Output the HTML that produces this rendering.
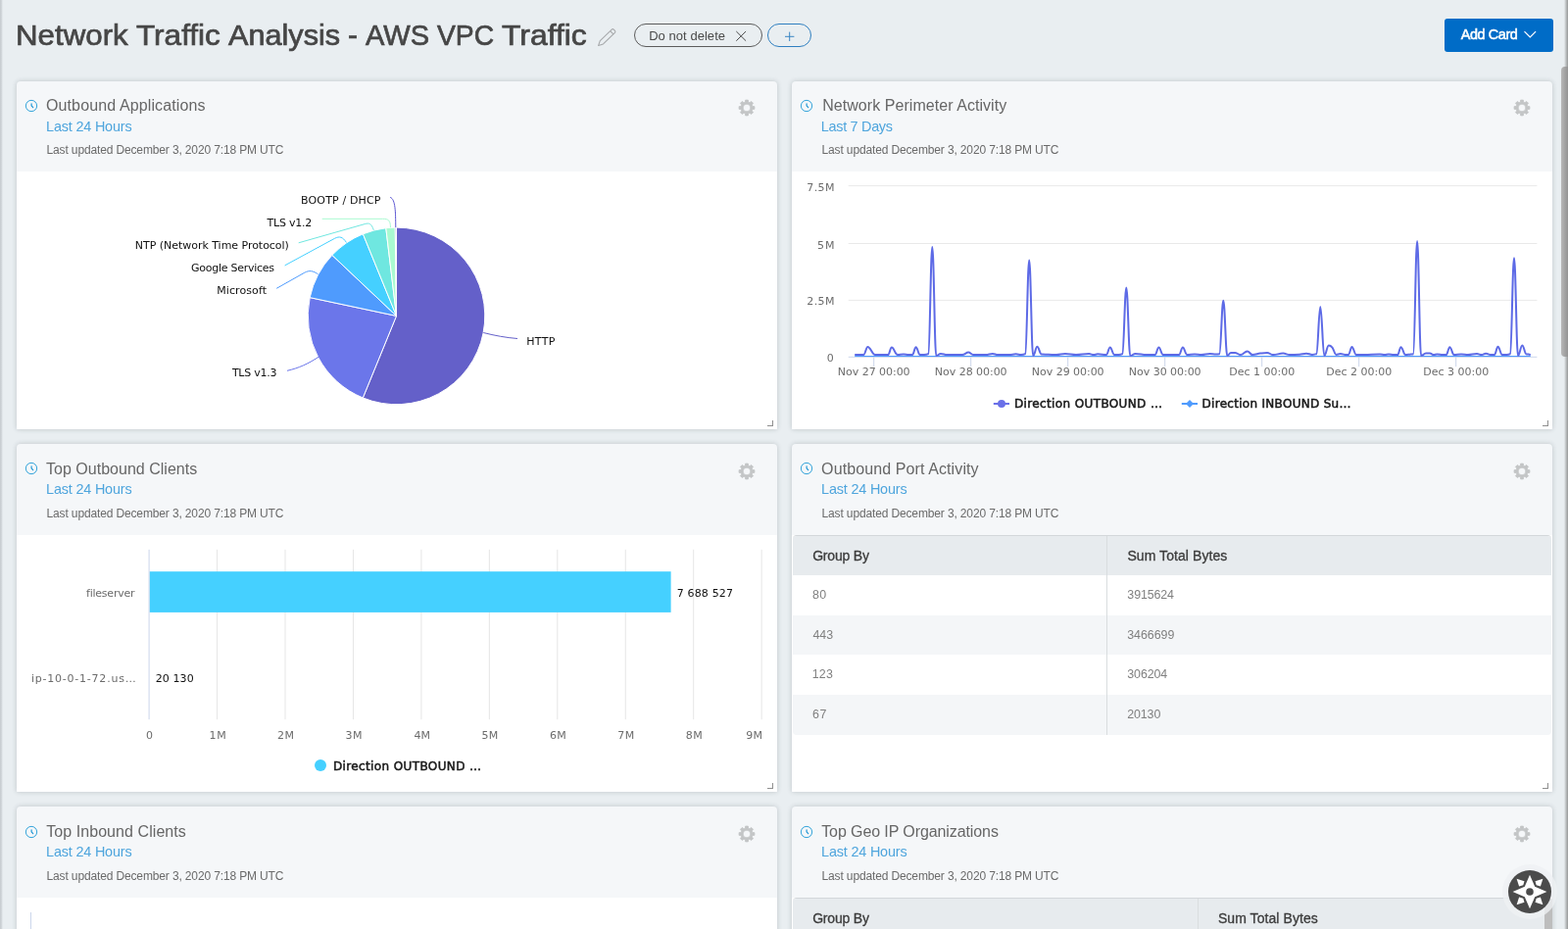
<!DOCTYPE html>
<html lang="en">
<head>
<meta charset="utf-8">
<title>Network Traffic Analysis - AWS VPC Traffic</title>
<style>
html,body{margin:0;padding:0}
body{width:1600px;height:948px;overflow:hidden;background:#e9eef1;position:relative;font-family:'Liberation Sans',sans-serif}
#app{position:absolute;left:0;top:0;width:1600px;height:948px;overflow:hidden;background:#e9eef1}
h1,h2{margin:0;padding:0;font-weight:400;font-size:inherit}
.abs{position:absolute;display:block}
.t{position:absolute;white-space:pre;display:block}
.card{position:absolute;background:#f5f7f9;border-radius:4px 4px 1px 1px;box-shadow:0 0 5px rgba(50,62,70,.24);overflow:hidden;margin:0}
.card .body{position:absolute;left:0;width:100%;background:#fff}
.rh{position:absolute;width:5px;height:5px;border-right:1px solid #8f8f8f;border-bottom:1px solid #8f8f8f}
.pill{position:absolute;box-sizing:border-box;border:1px solid;border-radius:12px}
.btn{position:absolute;background:#006cc7;border-radius:3px}
.tbl{position:absolute;box-sizing:border-box;border-top:1px solid #d3d7da;border-radius:4px;overflow:hidden;background:#fff}
.tbl .th{position:absolute;left:0;top:0;width:100%;background:#e7ebee}
.tbl .tr{position:absolute;left:0;width:100%}
.tbl .vd{position:absolute;top:0;bottom:0;width:1px;background:#d9dddf}
</style>
</head>
<body>
<div id="app">
<h1>
<span class="t" style="left:16.06px;top:17.00px;font:400 30px 'Liberation Sans', sans-serif;line-height:38px;color:#464646;transform:scaleX(1.0426);transform-origin:0 0;-webkit-text-stroke:0.7px #464646;">Network</span> <span class="t" style="left:138.75px;top:17.00px;font:400 30px 'Liberation Sans', sans-serif;line-height:38px;color:#464646;transform:scaleX(1.0512);transform-origin:0 0;-webkit-text-stroke:0.7px #464646;">Traffic</span> <span class="t" style="left:233.21px;top:17.00px;font:400 30px 'Liberation Sans', sans-serif;line-height:38px;color:#464646;transform:scaleX(1.0215);transform-origin:0 0;-webkit-text-stroke:0.7px #464646;">Analysis</span> <span class="t" style="left:355.01px;top:17.00px;font:400 30px 'Liberation Sans', sans-serif;line-height:38px;color:#464646;-webkit-text-stroke:0.7px #464646;">-</span> <span class="t" style="left:372.90px;top:17.00px;font:400 30px 'Liberation Sans', sans-serif;line-height:38px;color:#464646;transform:scaleX(0.9674);transform-origin:0 0;-webkit-text-stroke:0.7px #464646;">AWS</span> <span class="t" style="left:445.99px;top:17.00px;font:400 30px 'Liberation Sans', sans-serif;line-height:38px;color:#464646;transform:scaleX(0.9419);transform-origin:0 0;-webkit-text-stroke:0.7px #464646;">VPC</span> <span class="t" style="left:511.55px;top:17.00px;font:400 30px 'Liberation Sans', sans-serif;line-height:38px;color:#464646;transform:scaleX(1.0629);transform-origin:0 0;-webkit-text-stroke:0.7px #464646;">Traffic</span>
</h1>
<svg class="abs" style="left:608px;top:26px" width="24" height="24" viewBox="608 26 24 24">
<g transform="translate(610.6 46.5) rotate(-44)">
<path d="M0 0L4.6-2.3H21.2Q22.6-2.3 22.6-0.9V0.9Q22.6 2.3 21.2 2.3H4.6Z M19 -2.3V2.3" fill="none" stroke="#a6a8aa" stroke-width="1.05" stroke-linejoin="round"/>
</g>
</svg>
<div class="pill" style="left:646.5px;top:24px;width:131px;height:24px;border-color:#5c5c5c">
</div>
<span class="t" style="left:662.19px;top:29.00px;font:400 13px 'Liberation Sans', sans-serif;line-height:16px;color:#4a4a4a;letter-spacing:0.042px;">Do not delete</span>
<svg class="abs" style="left:748px;top:28px" width="16" height="16" viewBox="748 28 16 16">
<path d="M751.3 32L761.1 41.7M761.1 32L751.3 41.7" stroke="#4a4a4a" stroke-width="1" fill="none"/>
</svg>
<div class="pill" style="left:783px;top:24px;width:44.5px;height:24px;border-color:#2f7fc0">
</div>
<svg class="abs" style="left:797px;top:28px" width="16" height="16" viewBox="797 28 16 16">
<path d="M801 37.3H810.4M805.7 32.6V42" stroke="#3b86c4" stroke-width="1" fill="none"/>
</svg>
<div class="btn" style="left:1474px;top:19px;width:111px;height:34px">
</div>
<span class="t" style="left:1490.69px;top:26.00px;font:400 14.4px 'Liberation Sans', sans-serif;line-height:18px;color:#fff;letter-spacing:-0.374px;-webkit-text-stroke:0.5px #fff;">Add Card</span>
<svg class="abs" style="left:1552px;top:28px" width="18" height="14" viewBox="1552 28 18 14">
<path d="M1555.5 32.2L1561.3 38L1567.1 32.2" stroke="#fff" stroke-width="1.2" fill="none"/>
</svg>
<section class="card" style="left:17px;top:83px;width:776.4px;height:354.9px">
<div class="body" style="top:92px;height:262.9px">
</div>
</section>
<svg class="abs" style="left:24.1px;top:99.9px" width="16" height="16" viewBox="-8 -8 16 16">
<circle r="5.65" fill="none" stroke="#2a9fd8" stroke-width="0.95"/>
<path d="M0.1-2.3V-0.2L1.7 1.7" fill="none" stroke="#1a94d4" stroke-width="1.15" stroke-linecap="round" stroke-linejoin="round"/>
</svg>
<h2 class="t" style="left:46.97px;top:98.00px;font:400 16px 'Liberation Sans', sans-serif;line-height:20px;color:#666;letter-spacing:0.119px;">Outbound Applications</h2>
<span class="t" style="left:47.07px;top:120.00px;font:400 14.4px 'Liberation Sans', sans-serif;line-height:18px;color:#4ea5dd;letter-spacing:-0.173px;">Last 24 Hours</span>
<span class="t" style="left:47.52px;top:146.00px;font:400 12px 'Liberation Sans', sans-serif;line-height:15px;color:#6a6a6a;letter-spacing:-0.138px;">Last updated December 3, 2020 7:18 PM UTC</span>
<svg class="abs" style="left:752.45px;top:100.25px" width="20" height="20" viewBox="-10 -10 20 20">
<path d="M-1.60 -5.78L-1.36 -7.93L1.36 -7.93L1.60 -5.78L2.96 -5.22L4.65 -6.57L6.57 -4.65L5.22 -2.96L5.78 -1.60L7.93 -1.36L7.93 1.36L5.78 1.60L5.22 2.96L6.57 4.65L4.65 6.57L2.96 5.22L1.60 5.78L1.36 7.93L-1.36 7.93L-1.60 5.78L-2.96 5.22L-4.65 6.57L-6.57 4.65L-5.22 2.96L-5.78 1.60L-7.93 1.36L-7.93 -1.36L-5.78 -1.60L-5.22 -2.96L-6.57 -4.65L-4.65 -6.57L-2.96 -5.22Z M3.85 0A3.85 3.85 0 1 0 -3.85 0A3.85 3.85 0 1 0 3.85 0Z" fill="#c3c5c6" fill-rule="evenodd" stroke="#c3c5c6" stroke-width="0.8" stroke-linejoin="round"/>
</svg>
<svg class="abs" style="left:17px;top:175px" width="776" height="262" viewBox="17 175 776 262">
<path d="M404.5 322.4L404.50 232.10A90.3 90.3 0 1 1 370.31 405.98Z" fill="#6460c9" stroke="#fff" stroke-width="1" stroke-linejoin="round"/>
<path d="M404.5 322.4L370.31 405.98A90.3 90.3 0 0 1 316.17 303.63Z" fill="#6b76ea" stroke="#fff" stroke-width="1" stroke-linejoin="round"/>
<path d="M404.5 322.4L316.17 303.63A90.3 90.3 0 0 1 338.89 260.36Z" fill="#4f9bfd" stroke="#fff" stroke-width="1" stroke-linejoin="round"/>
<path d="M404.5 322.4L338.89 260.36A90.3 90.3 0 0 1 370.38 238.79Z" fill="#45d0ff" stroke="#fff" stroke-width="1" stroke-linejoin="round"/>
<path d="M404.5 322.4L370.38 238.79A90.3 90.3 0 0 1 393.81 232.74Z" fill="#6fe7e0" stroke="#fff" stroke-width="1" stroke-linejoin="round"/>
<path d="M404.5 322.4L393.81 232.74A90.3 90.3 0 0 1 403.24 232.11Z" fill="#a9fad1" stroke="#fff" stroke-width="1" stroke-linejoin="round"/>
<path d="M404.5 322.4L403.24 232.11A90.3 90.3 0 0 1 404.50 232.10Z" fill="#5a4fd8" stroke="#fff" stroke-width="1" stroke-linejoin="round"/>
<path d="M398.2 201.3C403.6 203.5 403.6 216 403.8 232" fill="none" stroke="#5b55d2" stroke-width="1"/>
<path d="M328.7 223.3L390.5 223.3C396.8 223.3 398.3 225.3 398.5 232" fill="none" stroke="#a9fad1" stroke-width="1"/>
<path d="M304.7 247.8L372.2 228.6C377 227.2 379 228.3 381.3 234.8" fill="none" stroke="#6fe7e0" stroke-width="1"/>
<path d="M290.6 270.9L341.5 243.3C346.5 240.7 349.8 241.8 353.4 247.4" fill="none" stroke="#45d0ff" stroke-width="1"/>
<path d="M282.2 294.3L310.8 278.2C315.5 275.6 319.5 276.3 324.4 279.7" fill="none" stroke="#4f9bfd" stroke-width="1"/>
<path d="M293 378.3C305 375.5 314 371.5 325 364.3" fill="none" stroke="#6b76ea" stroke-width="1"/>
<path d="M493.3 339.5C505 342.5 516 344.5 528 345.5" fill="none" stroke="#6460c9" stroke-width="1"/>
</svg>
<span class="t" style="left:307.10px;top:198.00px;font:400 11px 'DejaVu Sans', 'Liberation Sans', sans-serif;line-height:14px;color:#111;letter-spacing:0.135px;">BOOTP / DHCP</span>
<span class="t" style="left:272.62px;top:221.00px;font:400 11px 'DejaVu Sans', 'Liberation Sans', sans-serif;line-height:14px;color:#111;letter-spacing:-0.225px;">TLS v1.2</span>
<span class="t" style="left:137.87px;top:244.00px;font:400 11px 'DejaVu Sans', 'Liberation Sans', sans-serif;line-height:14px;color:#111;letter-spacing:-0.031px;">NTP (Network Time Protocol)</span>
<span class="t" style="left:194.96px;top:267.00px;font:400 11px 'DejaVu Sans', 'Liberation Sans', sans-serif;line-height:14px;color:#111;letter-spacing:-0.259px;">Google Services</span>
<span class="t" style="left:221.27px;top:290.00px;font:400 11px 'DejaVu Sans', 'Liberation Sans', sans-serif;line-height:14px;color:#111;letter-spacing:0.087px;">Microsoft</span>
<span class="t" style="left:236.89px;top:374.00px;font:400 11px 'DejaVu Sans', 'Liberation Sans', sans-serif;line-height:14px;color:#111;letter-spacing:-0.232px;">TLS v1.3</span>
<span class="t" style="left:537.25px;top:342.00px;font:400 11px 'DejaVu Sans', 'Liberation Sans', sans-serif;line-height:14px;color:#111;letter-spacing:0.333px;">HTTP</span>
<div class="rh" style="left:783.1px;top:429.29999999999995px">
</div>
<section class="card" style="left:808px;top:83px;width:776.4px;height:354.9px">
<div class="body" style="top:92px;height:262.9px">
</div>
</section>
<svg class="abs" style="left:815.1px;top:99.9px" width="16" height="16" viewBox="-8 -8 16 16">
<circle r="5.65" fill="none" stroke="#2a9fd8" stroke-width="0.95"/>
<path d="M0.1-2.3V-0.2L1.7 1.7" fill="none" stroke="#1a94d4" stroke-width="1.15" stroke-linecap="round" stroke-linejoin="round"/>
</svg>
<h2 class="t" style="left:839.22px;top:98.00px;font:400 16px 'Liberation Sans', sans-serif;line-height:20px;color:#666;letter-spacing:0.05px;">Network Perimeter Activity</h2>
<span class="t" style="left:837.83px;top:120.00px;font:400 14.4px 'Liberation Sans', sans-serif;line-height:18px;color:#4ea5dd;letter-spacing:-0.284px;">Last 7 Days</span>
<span class="t" style="left:838.52px;top:146.00px;font:400 12px 'Liberation Sans', sans-serif;line-height:15px;color:#6a6a6a;letter-spacing:-0.138px;">Last updated December 3, 2020 7:18 PM UTC</span>
<svg class="abs" style="left:1543.45px;top:100.25px" width="20" height="20" viewBox="-10 -10 20 20">
<path d="M-1.60 -5.78L-1.36 -7.93L1.36 -7.93L1.60 -5.78L2.96 -5.22L4.65 -6.57L6.57 -4.65L5.22 -2.96L5.78 -1.60L7.93 -1.36L7.93 1.36L5.78 1.60L5.22 2.96L6.57 4.65L4.65 6.57L2.96 5.22L1.60 5.78L1.36 7.93L-1.36 7.93L-1.60 5.78L-2.96 5.22L-4.65 6.57L-6.57 4.65L-5.22 2.96L-5.78 1.60L-7.93 1.36L-7.93 -1.36L-5.78 -1.60L-5.22 -2.96L-6.57 -4.65L-4.65 -6.57L-2.96 -5.22Z M3.85 0A3.85 3.85 0 1 0 -3.85 0A3.85 3.85 0 1 0 3.85 0Z" fill="#c3c5c6" fill-rule="evenodd" stroke="#c3c5c6" stroke-width="0.8" stroke-linejoin="round"/>
</svg>
<svg class="abs" style="left:808px;top:175px" width="776" height="262" viewBox="808 175 776 262">
<path d="M865.7 189.6H1568.4" stroke="#e6e6e6" stroke-width="0.9" fill="none"/>
<path d="M865.7 248.5H1568.4" stroke="#e6e6e6" stroke-width="0.9" fill="none"/>
<path d="M865.7 306.4H1568.4" stroke="#e6e6e6" stroke-width="0.9" fill="none"/>
<path d="M865.7 364.3H1568.4" stroke="#ccd6eb" stroke-width="1" fill="none"/>
<path d="M891.7 364.1V374.2" stroke="#ccd6eb" stroke-width="1" fill="none"/>
<path d="M990.7 364.1V374.2" stroke="#ccd6eb" stroke-width="1" fill="none"/>
<path d="M1089.7 364.1V374.2" stroke="#ccd6eb" stroke-width="1" fill="none"/>
<path d="M1188.7 364.1V374.2" stroke="#ccd6eb" stroke-width="1" fill="none"/>
<path d="M1287.7 364.1V374.2" stroke="#ccd6eb" stroke-width="1" fill="none"/>
<path d="M1386.7 364.1V374.2" stroke="#ccd6eb" stroke-width="1" fill="none"/>
<path d="M1485.7 364.1V374.2" stroke="#ccd6eb" stroke-width="1" fill="none"/>
<path d="M872.2 363.5H1561.8" stroke="#4f9bfd" stroke-width="1.1" fill="none"/>
<path d="M872.2 362.1C872.2 362.1 875.1 362.1 877.0 362.1C878.7 362.1 879.5 362.1 881.2 362.1C882.9 362.1 883.7 354.0 885.4 354.0C888.4 354.0 890.0 362.1 893.0 362.1C895.8 362.1 897.2 362.1 900.0 362.1C902.4 362.1 903.7 362.1 906.1 362.1C907.6 362.1 908.4 354.6 909.9 354.6C912.3 354.6 913.5 362.1 915.9 362.1C918.3 362.1 919.6 361.4 922.0 361.4C924.0 361.4 925.0 362.1 927.0 362.1C928.6 362.1 929.4 362.1 931.0 362.1C932.4 362.1 933.2 354.3 934.6 354.3C936.3 354.3 937.1 362.1 938.8 362.1C940.5 362.1 941.3 362.1 943.0 362.1C944.7 362.1 945.6 362.1 947.3 361.2C948.9 360.4 949.7 252.1 951.3 252.1C952.9 252.1 953.7 363.1 955.3 363.1C957.1 363.1 958.1 360.9 959.9 360.9C962.5 360.9 963.7 362.1 966.3 362.1C969.8 362.1 971.5 362.1 975.0 362.1C977.8 362.1 979.2 362.1 982.0 362.1C984.5 362.1 985.7 359.6 988.2 359.6C990.1 359.6 991.1 362.1 993.0 362.1C995.8 362.1 997.2 362.1 1000.0 362.1C1002.4 362.1 1003.6 362.1 1006.0 362.1C1008.8 362.1 1010.1 360.9 1012.9 360.9C1014.9 360.9 1016.0 362.1 1018.0 362.1C1020.4 362.1 1021.6 362.1 1024.0 362.1C1026.4 362.1 1027.6 362.1 1030.0 362.1C1032.6 362.1 1034.0 361.3 1036.6 361.3C1038.8 361.3 1039.8 362.1 1042.0 362.1C1043.7 362.1 1044.5 362.1 1046.2 361.2C1047.8 360.4 1048.6 265.4 1050.2 265.4C1051.8 265.4 1052.6 363.1 1054.2 363.1C1055.9 363.1 1056.7 353.8 1058.4 353.8C1060.1 353.8 1061.0 361.4 1062.7 361.5C1065.6 361.7 1067.0 361.6 1069.9 361.7C1073.1 361.8 1074.8 362.1 1078.0 362.1C1081.6 362.1 1083.3 361.1 1086.9 361.1C1091.3 361.1 1093.6 362.1 1098.0 362.1C1103.3 362.1 1105.9 361.1 1111.2 361.1C1113.1 361.1 1114.1 362.1 1116.0 362.1C1117.6 362.1 1118.5 361.3 1120.1 361.3C1123.6 361.3 1125.4 362.1 1128.9 362.1C1130.4 362.1 1131.2 354.5 1132.7 354.5C1134.5 354.5 1135.3 362.1 1137.1 362.1C1138.9 362.1 1139.7 362.1 1141.5 362.1C1143.0 362.1 1143.8 362.1 1145.3 361.2C1146.9 360.4 1147.7 293.5 1149.3 293.5C1150.9 293.5 1151.7 363.1 1153.3 363.1C1155.4 363.1 1156.4 360.9 1158.5 360.9C1163.1 360.9 1165.4 362.1 1170.0 362.1C1173.4 362.1 1175.2 362.1 1178.6 362.1C1180.1 362.1 1180.9 354.5 1182.4 354.5C1184.2 354.5 1185.0 362.1 1186.8 362.1C1189.7 362.1 1191.1 362.1 1194.0 362.1C1197.6 362.1 1199.5 362.1 1203.1 362.1C1204.6 362.1 1205.4 354.5 1206.9 354.5C1208.7 354.5 1209.5 362.1 1211.3 362.1C1214.4 362.1 1215.9 361.6 1219.0 361.6C1221.8 361.6 1223.2 362.1 1226.0 362.1C1229.5 362.1 1231.2 361.1 1234.7 361.1C1237.0 361.1 1238.2 361.6 1240.5 361.6C1242.0 361.6 1242.8 361.6 1244.3 361.2C1245.9 360.9 1246.7 306.8 1248.3 306.8C1249.9 306.8 1250.7 363.1 1252.3 363.1C1253.8 363.1 1254.5 359.9 1256.0 359.9C1257.6 359.9 1258.4 359.9 1260.0 359.9C1262.4 359.9 1263.6 362.1 1266.0 362.1C1268.7 362.1 1270.1 358.4 1272.8 358.4C1274.9 358.4 1275.9 362.1 1278.0 362.1C1281.2 362.1 1282.8 361.1 1286.0 360.6C1288.8 360.2 1290.2 359.9 1293.0 359.9C1295.4 359.9 1296.6 362.1 1299.0 362.1C1303.1 362.1 1305.2 360.6 1309.3 360.6C1312.0 360.6 1313.3 362.1 1316.0 362.1C1320.0 362.1 1322.0 362.0 1326.0 361.7C1328.8 361.5 1330.2 360.7 1333.0 360.7C1335.4 360.7 1336.6 361.9 1339.0 361.9C1340.7 361.9 1341.6 361.9 1343.3 361.2C1344.9 360.6 1345.7 313.0 1347.3 313.0C1348.9 313.0 1349.7 363.1 1351.3 363.1C1353.1 363.1 1354.0 352.5 1355.8 352.5C1357.3 352.5 1358.0 352.8 1359.5 354.6C1361.1 356.6 1361.9 361.9 1363.5 361.9C1365.2 361.9 1366.0 361.1 1367.7 361.1C1370.2 361.1 1371.5 362.1 1374.0 362.1C1374.8 362.1 1375.1 362.1 1375.9 362.1C1377.3 362.1 1378.1 354.0 1379.5 354.0C1381.3 354.0 1382.1 362.1 1383.9 362.1C1387.1 362.1 1388.8 362.1 1392.0 362.1C1398.4 362.1 1401.6 361.4 1408.0 361.4C1410.0 361.4 1411.0 362.1 1413.0 362.1C1414.6 362.1 1415.4 361.4 1417.0 361.4C1419.0 361.4 1420.0 362.1 1422.0 362.1C1423.6 362.1 1424.5 362.1 1426.1 362.1C1427.5 362.1 1428.1 354.2 1429.5 354.2C1431.3 354.2 1432.3 362.1 1434.1 362.1C1435.9 362.1 1436.7 361.9 1438.5 361.7C1439.9 361.5 1440.7 361.7 1442.1 361.2C1443.7 360.8 1444.5 245.9 1446.1 245.9C1447.7 245.9 1448.5 363.1 1450.1 363.1C1452.1 363.1 1453.0 360.5 1455.0 360.5C1456.6 360.5 1457.4 360.5 1459.0 360.5C1460.6 360.5 1461.4 362.1 1463.0 362.1C1464.4 362.1 1465.1 361.4 1466.5 361.4C1468.7 361.4 1469.8 362.1 1472.0 362.1C1473.5 362.1 1474.2 362.1 1475.7 362.1C1477.1 362.1 1477.9 354.2 1479.3 354.2C1481.1 354.2 1481.9 362.1 1483.7 362.1C1486.6 362.1 1488.1 361.5 1491.0 361.5C1493.8 361.5 1495.2 362.1 1498.0 362.1C1501.6 362.1 1503.4 361.1 1507.0 361.1C1509.0 361.1 1510.0 362.1 1512.0 362.1C1513.7 362.1 1514.5 360.7 1516.2 360.7C1518.1 360.7 1519.1 362.1 1521.0 362.1C1522.6 362.1 1523.3 362.1 1524.9 362.1C1526.3 362.1 1527.1 353.8 1528.5 353.8C1530.3 353.8 1531.1 362.1 1532.9 362.1C1534.7 362.1 1535.7 362.1 1537.5 362.1C1538.9 362.1 1539.6 362.1 1541.0 361.2C1542.6 360.4 1543.4 263.2 1545.0 263.2C1546.6 263.2 1547.4 363.1 1549.0 363.1C1550.7 363.1 1551.6 352.6 1553.3 352.6C1555.0 352.6 1555.9 361.5 1557.6 361.5C1558.4 361.6 1558.7 361.5 1559.5 361.6C1560.4 361.7 1561.8 362.1 1561.8 362.1" stroke="#5d6ae6" stroke-width="2" fill="none" stroke-linejoin="round" stroke-linecap="butt"/>
<path d="M1013.8 412H1030" stroke="#6a70e8" stroke-width="2"/>
<circle cx="1022" cy="412" r="4" fill="#6a70e8"/>
<path d="M1205.8 412H1222" stroke="#4f9bfd" stroke-width="2"/>
<path d="M1214 408L1218 412L1214 416L1210 412Z" fill="#4f9bfd"/>
</svg>
<span class="t" style="left:823.26px;top:185.00px;font:400 11px 'DejaVu Sans', 'Liberation Sans', sans-serif;line-height:14px;color:#6c6c6c;letter-spacing:0.435px;">7.5M</span>
<span class="t" style="left:834.11px;top:244.00px;font:400 11px 'DejaVu Sans', 'Liberation Sans', sans-serif;line-height:14px;color:#6c6c6c;letter-spacing:0.958px;">5M</span>
<span class="t" style="left:823.31px;top:301.00px;font:400 11px 'DejaVu Sans', 'Liberation Sans', sans-serif;line-height:14px;color:#6c6c6c;letter-spacing:0.404px;">2.5M</span>
<span class="t" style="left:843.76px;top:359.00px;font:400 11px 'DejaVu Sans', 'Liberation Sans', sans-serif;line-height:14px;color:#6c6c6c;">0</span>
<span class="t" style="left:854.85px;top:373.00px;font:400 11px 'DejaVu Sans', 'Liberation Sans', sans-serif;line-height:14px;color:#6c6c6c;letter-spacing:-0.036px;">Nov 27 00:00</span>
<span class="t" style="left:953.85px;top:373.00px;font:400 11px 'DejaVu Sans', 'Liberation Sans', sans-serif;line-height:14px;color:#6c6c6c;letter-spacing:-0.036px;">Nov 28 00:00</span>
<span class="t" style="left:1052.85px;top:373.00px;font:400 11px 'DejaVu Sans', 'Liberation Sans', sans-serif;line-height:14px;color:#6c6c6c;letter-spacing:-0.036px;">Nov 29 00:00</span>
<span class="t" style="left:1151.85px;top:373.00px;font:400 11px 'DejaVu Sans', 'Liberation Sans', sans-serif;line-height:14px;color:#6c6c6c;letter-spacing:-0.036px;">Nov 30 00:00</span>
<span class="t" style="left:1254.24px;top:373.00px;font:400 11px 'DejaVu Sans', 'Liberation Sans', sans-serif;line-height:14px;color:#6c6c6c;letter-spacing:-0.002px;">Dec 1 00:00</span>
<span class="t" style="left:1353.24px;top:373.00px;font:400 11px 'DejaVu Sans', 'Liberation Sans', sans-serif;line-height:14px;color:#6c6c6c;letter-spacing:-0.002px;">Dec 2 00:00</span>
<span class="t" style="left:1452.24px;top:373.00px;font:400 11px 'DejaVu Sans', 'Liberation Sans', sans-serif;line-height:14px;color:#6c6c6c;letter-spacing:-0.002px;">Dec 3 00:00</span>
<span class="t" style="left:1034.93px;top:405.00px;font:400 12px 'DejaVu Sans', 'Liberation Sans', sans-serif;line-height:15px;color:#1a1a1a;letter-spacing:0.376px;-webkit-text-stroke:0.55px #1a1a1a;">Direction OUTBOUND …</span>
<span class="t" style="left:1226.56px;top:405.00px;font:400 12px 'DejaVu Sans', 'Liberation Sans', sans-serif;line-height:15px;color:#1a1a1a;letter-spacing:0.294px;-webkit-text-stroke:0.55px #1a1a1a;">Direction INBOUND Su…</span>
<div class="rh" style="left:1574.1000000000001px;top:429.29999999999995px">
</div>
<section class="card" style="left:17px;top:453px;width:776.4px;height:354.9px">
<div class="body" style="top:92.5px;height:262.4px">
</div>
</section>
<svg class="abs" style="left:24.1px;top:470.34999999999997px" width="16" height="16" viewBox="-8 -8 16 16">
<circle r="5.65" fill="none" stroke="#2a9fd8" stroke-width="0.95"/>
<path d="M0.1-2.3V-0.2L1.7 1.7" fill="none" stroke="#1a94d4" stroke-width="1.15" stroke-linecap="round" stroke-linejoin="round"/>
</svg>
<h2 class="t" style="left:47.00px;top:469.00px;font:400 16px 'Liberation Sans', sans-serif;line-height:20px;color:#666;letter-spacing:0.017px;">Top Outbound Clients</h2>
<span class="t" style="left:47.07px;top:490.00px;font:400 14.4px 'Liberation Sans', sans-serif;line-height:18px;color:#4ea5dd;letter-spacing:-0.173px;">Last 24 Hours</span>
<span class="t" style="left:47.52px;top:517.00px;font:400 12px 'Liberation Sans', sans-serif;line-height:15px;color:#6a6a6a;letter-spacing:-0.138px;">Last updated December 3, 2020 7:18 PM UTC</span>
<svg class="abs" style="left:752.45px;top:470.7px" width="20" height="20" viewBox="-10 -10 20 20">
<path d="M-1.60 -5.78L-1.36 -7.93L1.36 -7.93L1.60 -5.78L2.96 -5.22L4.65 -6.57L6.57 -4.65L5.22 -2.96L5.78 -1.60L7.93 -1.36L7.93 1.36L5.78 1.60L5.22 2.96L6.57 4.65L4.65 6.57L2.96 5.22L1.60 5.78L1.36 7.93L-1.36 7.93L-1.60 5.78L-2.96 5.22L-4.65 6.57L-6.57 4.65L-5.22 2.96L-5.78 1.60L-7.93 1.36L-7.93 -1.36L-5.78 -1.60L-5.22 -2.96L-6.57 -4.65L-4.65 -6.57L-2.96 -5.22Z M3.85 0A3.85 3.85 0 1 0 -3.85 0A3.85 3.85 0 1 0 3.85 0Z" fill="#c3c5c6" fill-rule="evenodd" stroke="#c3c5c6" stroke-width="0.8" stroke-linejoin="round"/>
</svg>
<svg class="abs" style="left:17px;top:546px" width="776" height="261" viewBox="17 546 776 261">
<path d="M221.55 560.8V734.2" stroke="#e6e6e6" stroke-width="1" fill="none"/>
<path d="M291.00 560.8V734.2" stroke="#e6e6e6" stroke-width="1" fill="none"/>
<path d="M360.45 560.8V734.2" stroke="#e6e6e6" stroke-width="1" fill="none"/>
<path d="M429.90 560.8V734.2" stroke="#e6e6e6" stroke-width="1" fill="none"/>
<path d="M499.35 560.8V734.2" stroke="#e6e6e6" stroke-width="1" fill="none"/>
<path d="M568.80 560.8V734.2" stroke="#e6e6e6" stroke-width="1" fill="none"/>
<path d="M638.25 560.8V734.2" stroke="#e6e6e6" stroke-width="1" fill="none"/>
<path d="M707.70 560.8V734.2" stroke="#e6e6e6" stroke-width="1" fill="none"/>
<path d="M777.15 560.8V734.2" stroke="#e6e6e6" stroke-width="1" fill="none"/>
<rect x="152.6" y="583.2" width="532" height="41.7" fill="#45d0ff"/>
<path d="M152.1 560.8V734.2" stroke="#ccd6eb" stroke-width="1" fill="none"/>
<circle cx="327" cy="781.1" r="6" fill="#45d0ff"/>
</svg>
<span class="t" style="left:88.00px;top:599.00px;font:400 11px 'DejaVu Sans', 'Liberation Sans', sans-serif;line-height:14px;color:#6c6c6c;letter-spacing:-0.222px;">fileserver</span>
<span class="t" style="left:31.88px;top:686.00px;font:400 11px 'DejaVu Sans', 'Liberation Sans', sans-serif;line-height:14px;color:#6c6c6c;letter-spacing:0.78px;">ip-10-0-1-72.us…</span>
<span class="t" style="left:690.67px;top:599.00px;font:400 11px 'DejaVu Sans', 'Liberation Sans', sans-serif;line-height:14px;color:#111;letter-spacing:0.171px;">7 688 527</span>
<span class="t" style="left:158.63px;top:686.00px;font:400 11px 'DejaVu Sans', 'Liberation Sans', sans-serif;line-height:14px;color:#111;letter-spacing:0.102px;">20 130</span>
<span class="t" style="left:149.11px;top:744.00px;font:400 11px 'DejaVu Sans', 'Liberation Sans', sans-serif;line-height:14px;color:#6c6c6c;">0</span>
<span class="t" style="left:213.55px;top:744.00px;font:400 11px 'DejaVu Sans', 'Liberation Sans', sans-serif;line-height:14px;color:#6c6c6c;letter-spacing:0.584px;">1M</span>
<span class="t" style="left:283.09px;top:744.00px;font:400 11px 'DejaVu Sans', 'Liberation Sans', sans-serif;line-height:14px;color:#6c6c6c;letter-spacing:0.396px;">2M</span>
<span class="t" style="left:352.50px;top:744.00px;font:400 11px 'DejaVu Sans', 'Liberation Sans', sans-serif;line-height:14px;color:#6c6c6c;letter-spacing:0.479px;">3M</span>
<span class="t" style="left:422.42px;top:744.00px;font:400 11px 'DejaVu Sans', 'Liberation Sans', sans-serif;line-height:14px;color:#6c6c6c;letter-spacing:0.122px;">4M</span>
<span class="t" style="left:491.41px;top:744.00px;font:400 11px 'DejaVu Sans', 'Liberation Sans', sans-serif;line-height:14px;color:#6c6c6c;letter-spacing:0.458px;">5M</span>
<span class="t" style="left:560.89px;top:744.00px;font:400 11px 'DejaVu Sans', 'Liberation Sans', sans-serif;line-height:14px;color:#6c6c6c;letter-spacing:0.404px;">6M</span>
<span class="t" style="left:630.30px;top:744.00px;font:400 11px 'DejaVu Sans', 'Liberation Sans', sans-serif;line-height:14px;color:#6c6c6c;letter-spacing:0.49px;">7M</span>
<span class="t" style="left:699.80px;top:744.00px;font:400 11px 'DejaVu Sans', 'Liberation Sans', sans-serif;line-height:14px;color:#6c6c6c;letter-spacing:0.382px;">8M</span>
<span class="t" style="left:761.14px;top:744.00px;font:400 11px 'DejaVu Sans', 'Liberation Sans', sans-serif;line-height:14px;color:#6c6c6c;letter-spacing:0.297px;">9M</span>
<span class="t" style="left:339.91px;top:775.00px;font:400 12px 'DejaVu Sans', 'Liberation Sans', sans-serif;line-height:15px;color:#1a1a1a;letter-spacing:0.378px;-webkit-text-stroke:0.55px #1a1a1a;">Direction OUTBOUND …</span>
<div class="rh" style="left:783.1px;top:799.3px">
</div>
<section class="card" style="left:808px;top:453px;width:776.4px;height:354.9px">
<div class="body" style="top:92.5px;height:262.4px">
</div>
</section>
<svg class="abs" style="left:815.1px;top:470.34999999999997px" width="16" height="16" viewBox="-8 -8 16 16">
<circle r="5.65" fill="none" stroke="#2a9fd8" stroke-width="0.95"/>
<path d="M0.1-2.3V-0.2L1.7 1.7" fill="none" stroke="#1a94d4" stroke-width="1.15" stroke-linecap="round" stroke-linejoin="round"/>
</svg>
<h2 class="t" style="left:838.08px;top:469.00px;font:400 16px 'Liberation Sans', sans-serif;line-height:20px;color:#666;letter-spacing:0.105px;">Outbound Port Activity</h2>
<span class="t" style="left:838.08px;top:490.00px;font:400 14.4px 'Liberation Sans', sans-serif;line-height:18px;color:#4ea5dd;letter-spacing:-0.173px;">Last 24 Hours</span>
<span class="t" style="left:838.52px;top:517.00px;font:400 12px 'Liberation Sans', sans-serif;line-height:15px;color:#6a6a6a;letter-spacing:-0.138px;">Last updated December 3, 2020 7:18 PM UTC</span>
<svg class="abs" style="left:1543.45px;top:470.7px" width="20" height="20" viewBox="-10 -10 20 20">
<path d="M-1.60 -5.78L-1.36 -7.93L1.36 -7.93L1.60 -5.78L2.96 -5.22L4.65 -6.57L6.57 -4.65L5.22 -2.96L5.78 -1.60L7.93 -1.36L7.93 1.36L5.78 1.60L5.22 2.96L6.57 4.65L4.65 6.57L2.96 5.22L1.60 5.78L1.36 7.93L-1.36 7.93L-1.60 5.78L-2.96 5.22L-4.65 6.57L-6.57 4.65L-5.22 2.96L-5.78 1.60L-7.93 1.36L-7.93 -1.36L-5.78 -1.60L-5.22 -2.96L-6.57 -4.65L-4.65 -6.57L-2.96 -5.22Z M3.85 0A3.85 3.85 0 1 0 -3.85 0A3.85 3.85 0 1 0 3.85 0Z" fill="#c3c5c6" fill-rule="evenodd" stroke="#c3c5c6" stroke-width="0.8" stroke-linejoin="round"/>
</svg>
<div class="tbl" style="left:808.8px;top:546px;width:774.4px;height:203.6px">
<div class="th" style="height:40px">
</div>
<div class="tr" style="top:40.00px;height:40.7px;background:#fff">
</div>
<div class="tr" style="top:80.65px;height:40.7px;background:#f4f6f8">
</div>
<div class="tr" style="top:121.30px;height:40.7px;background:#fff">
</div>
<div class="tr" style="top:161.95px;height:40.7px;background:#f4f6f8">
</div>
<div class="vd" style="left:320.70000000000005px">
</div>
</div>
<span class="t" style="left:829.14px;top:558.00px;font:400 14px 'Liberation Sans', sans-serif;line-height:18px;color:#3c3c3c;letter-spacing:-0.184px;-webkit-text-stroke:0.3px #3c3c3c;">Group By</span>
<span class="t" style="left:1150.39px;top:558.00px;font:400 14px 'Liberation Sans', sans-serif;line-height:18px;color:#3c3c3c;letter-spacing:0.073px;-webkit-text-stroke:0.3px #3c3c3c;">Sum Total Bytes</span>
<span class="t" style="left:829.02px;top:599.00px;font:400 12.4px 'Liberation Sans', sans-serif;line-height:16px;color:#808080;letter-spacing:0.354px;">80</span>
<span class="t" style="left:1150.36px;top:599.00px;font:400 12.4px 'Liberation Sans', sans-serif;line-height:16px;color:#808080;letter-spacing:-0.1px;">3915624</span>
<span class="t" style="left:829.60px;top:640.00px;font:400 12.4px 'Liberation Sans', sans-serif;line-height:16px;color:#808080;letter-spacing:-0.114px;">443</span>
<span class="t" style="left:1150.23px;top:640.00px;font:400 12.4px 'Liberation Sans', sans-serif;line-height:16px;color:#808080;letter-spacing:-0.023px;">3466699</span>
<span class="t" style="left:828.63px;top:680.00px;font:400 12.4px 'Liberation Sans', sans-serif;line-height:16px;color:#808080;letter-spacing:0.355px;">123</span>
<span class="t" style="left:1150.36px;top:680.00px;font:400 12.4px 'Liberation Sans', sans-serif;line-height:16px;color:#808080;letter-spacing:-0.126px;">306204</span>
<span class="t" style="left:828.97px;top:721.00px;font:400 12.4px 'Liberation Sans', sans-serif;line-height:16px;color:#808080;letter-spacing:0.593px;">67</span>
<span class="t" style="left:1150.18px;top:721.00px;font:400 12.4px 'Liberation Sans', sans-serif;line-height:16px;color:#808080;letter-spacing:-0.089px;">20130</span>
<div class="rh" style="left:1574.1000000000001px;top:799.3px">
</div>
<section class="card" style="left:17px;top:823px;width:776.4px;height:354.9px">
<div class="body" style="top:93px;height:261.9px">
</div>
</section>
<svg class="abs" style="left:24.1px;top:840.9px" width="16" height="16" viewBox="-8 -8 16 16">
<circle r="5.65" fill="none" stroke="#2a9fd8" stroke-width="0.95"/>
<path d="M0.1-2.3V-0.2L1.7 1.7" fill="none" stroke="#1a94d4" stroke-width="1.15" stroke-linecap="round" stroke-linejoin="round"/>
</svg>
<h2 class="t" style="left:47.19px;top:839.00px;font:400 16px 'Liberation Sans', sans-serif;line-height:20px;color:#666;letter-spacing:0.067px;">Top Inbound Clients</h2>
<span class="t" style="left:47.07px;top:860.00px;font:400 14.4px 'Liberation Sans', sans-serif;line-height:18px;color:#4ea5dd;letter-spacing:-0.173px;">Last 24 Hours</span>
<span class="t" style="left:47.52px;top:887.00px;font:400 12px 'Liberation Sans', sans-serif;line-height:15px;color:#6a6a6a;letter-spacing:-0.138px;">Last updated December 3, 2020 7:18 PM UTC</span>
<svg class="abs" style="left:752.45px;top:841.25px" width="20" height="20" viewBox="-10 -10 20 20">
<path d="M-1.60 -5.78L-1.36 -7.93L1.36 -7.93L1.60 -5.78L2.96 -5.22L4.65 -6.57L6.57 -4.65L5.22 -2.96L5.78 -1.60L7.93 -1.36L7.93 1.36L5.78 1.60L5.22 2.96L6.57 4.65L4.65 6.57L2.96 5.22L1.60 5.78L1.36 7.93L-1.36 7.93L-1.60 5.78L-2.96 5.22L-4.65 6.57L-6.57 4.65L-5.22 2.96L-5.78 1.60L-7.93 1.36L-7.93 -1.36L-5.78 -1.60L-5.22 -2.96L-6.57 -4.65L-4.65 -6.57L-2.96 -5.22Z M3.85 0A3.85 3.85 0 1 0 -3.85 0A3.85 3.85 0 1 0 3.85 0Z" fill="#c3c5c6" fill-rule="evenodd" stroke="#c3c5c6" stroke-width="0.8" stroke-linejoin="round"/>
</svg>
<div class="abs" style="left:31px;top:931px;width:1px;height:20px;background:#ccd6eb">
</div>
<section class="card" style="left:808px;top:823px;width:776.4px;height:354.9px">
<div class="body" style="top:93px;height:261.9px">
</div>
</section>
<svg class="abs" style="left:815.1px;top:840.9px" width="16" height="16" viewBox="-8 -8 16 16">
<circle r="5.65" fill="none" stroke="#2a9fd8" stroke-width="0.95"/>
<path d="M0.1-2.3V-0.2L1.7 1.7" fill="none" stroke="#1a94d4" stroke-width="1.15" stroke-linecap="round" stroke-linejoin="round"/>
</svg>
<h2 class="t" style="left:838.19px;top:839.00px;font:400 16px 'Liberation Sans', sans-serif;line-height:20px;color:#666;letter-spacing:-0.095px;">Top Geo IP Organizations</h2>
<span class="t" style="left:838.08px;top:860.00px;font:400 14.4px 'Liberation Sans', sans-serif;line-height:18px;color:#4ea5dd;letter-spacing:-0.173px;">Last 24 Hours</span>
<span class="t" style="left:838.52px;top:887.00px;font:400 12px 'Liberation Sans', sans-serif;line-height:15px;color:#6a6a6a;letter-spacing:-0.138px;">Last updated December 3, 2020 7:18 PM UTC</span>
<svg class="abs" style="left:1543.45px;top:841.25px" width="20" height="20" viewBox="-10 -10 20 20">
<path d="M-1.60 -5.78L-1.36 -7.93L1.36 -7.93L1.60 -5.78L2.96 -5.22L4.65 -6.57L6.57 -4.65L5.22 -2.96L5.78 -1.60L7.93 -1.36L7.93 1.36L5.78 1.60L5.22 2.96L6.57 4.65L4.65 6.57L2.96 5.22L1.60 5.78L1.36 7.93L-1.36 7.93L-1.60 5.78L-2.96 5.22L-4.65 6.57L-6.57 4.65L-5.22 2.96L-5.78 1.60L-7.93 1.36L-7.93 -1.36L-5.78 -1.60L-5.22 -2.96L-6.57 -4.65L-4.65 -6.57L-2.96 -5.22Z M3.85 0A3.85 3.85 0 1 0 -3.85 0A3.85 3.85 0 1 0 3.85 0Z" fill="#c3c5c6" fill-rule="evenodd" stroke="#c3c5c6" stroke-width="0.8" stroke-linejoin="round"/>
</svg>
<div class="tbl" style="left:808.8px;top:916.4px;width:774.4px;height:40px">
<div class="th" style="height:40px">
</div>
<div class="vd" style="left:413.20000000000005px">
</div>
</div>
<span class="t" style="left:829.14px;top:928.00px;font:400 14px 'Liberation Sans', sans-serif;line-height:18px;color:#3c3c3c;letter-spacing:-0.184px;-webkit-text-stroke:0.3px #3c3c3c;">Group By</span>
<span class="t" style="left:1242.89px;top:928.00px;font:400 14px 'Liberation Sans', sans-serif;line-height:18px;color:#3c3c3c;letter-spacing:0.073px;-webkit-text-stroke:0.3px #3c3c3c;">Sum Total Bytes</span>
<div class="abs" style="left:1576.3px;top:917px;width:7.7px;height:40px;background:#bdbdbd">
</div>
<div class="abs" style="left:0;top:0;width:3px;height:948px;background:linear-gradient(90deg,#c6cbcf,#cfd4d8 45%,#e9eef1)">
</div>
<div class="abs" style="left:1596px;top:0;width:4px;height:948px;background:linear-gradient(90deg,rgba(150,152,152,0),rgba(150,152,152,.55) 50%,#969898)">
</div>
<div class="abs" style="left:1593px;top:67.5px;width:8px;height:296px;border-radius:4px 0 0 4px;background:linear-gradient(90deg,#b8b8b8,#8e8e8e)">
</div>
<svg class="abs" style="left:1530.35px;top:878.7px" width="62" height="62" viewBox="-31 -31 62 62">
<circle r="28" fill="#eef1f3" fill-opacity="0.78"/>
<circle r="22" fill="#4b4b4b"/>
<path d="M0-17.2L5.2-5.2L17.4 0L5.2 5.2L0 17.2L-5.2 5.2L-17.4 0L-5.2-5.2Z" fill="#fff"/>
<path d="M13.4-13.2L5.5-10.8L6.7-6.7L10.9-5.4Z M-13.4-13.2L-5.5-10.8L-6.7-6.7L-10.9-5.4Z M13.4 13.2L5.5 10.8L6.7 6.7L10.9 5.4Z M-13.4 13.2L-5.5 10.8L-6.7 6.7L-10.9 5.4Z" fill="#fff"/>
<circle r="3.8" fill="#4b4b4b"/>
</svg>
</div>
</body>
</html>
